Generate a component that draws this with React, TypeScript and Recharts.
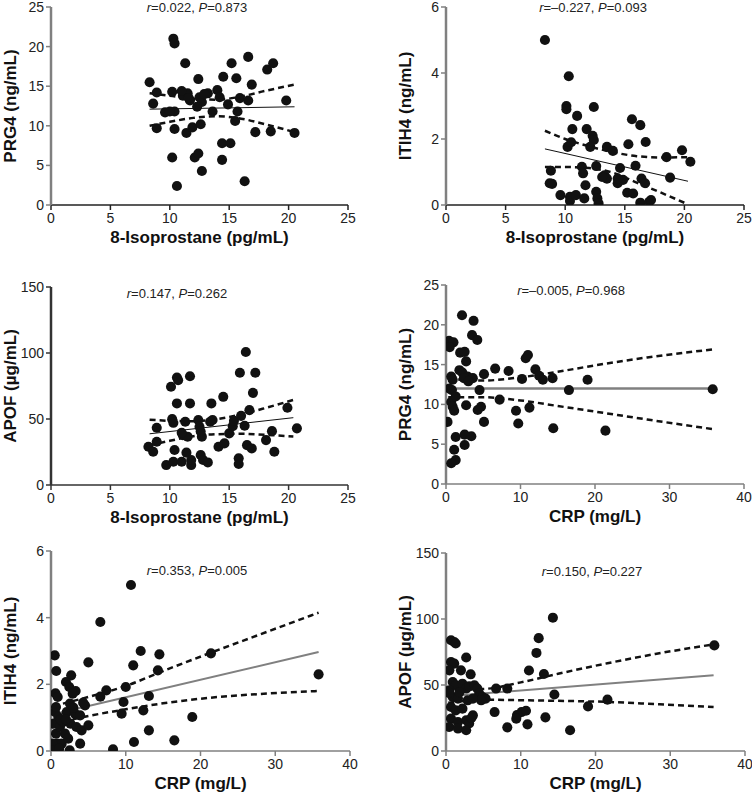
import React from "react";
import { ComposedChart, Scatter, Line, XAxis, YAxis, ZAxis } from "recharts";

type Pt = [number, number];

const FONT = '"Liberation Sans", Arial, sans-serif';

const isoTicks = [0, 5, 10, 15, 20, 25];
const crpTicks = [0, 10, 20, 30, 40];
const prg4Ticks = [0, 5, 10, 15, 20, 25];
const itih4Ticks = [0, 2, 4, 6];
const apofTicks = [0, 50, 100, 150];

// PRG4 vs 8-isoprostane
const prg4Iso: Pt[] = [
  [8.3, 15.5], [8.9, 14.2], [8.6, 12.8], [8.9, 9.7], [9.6, 11.7], [10.2, 14.3], [10.3, 21.0], [10.4, 20.4],
  [10.4, 11.8], [10.4, 9.6], [10.2, 6.0], [10.6, 2.4], [11.3, 17.9], [11.1, 13.8], [11.5, 14.1], [11.7, 13.2],
  [11.4, 9.1], [11.9, 9.8], [12.4, 15.9], [12.5, 13.6], [12.7, 13.0], [12.6, 10.2], [12.1, 6.0], [12.4, 6.5],
  [12.7, 4.3], [13.2, 14.1], [13.6, 11.8], [14.0, 14.5], [14.5, 16.2], [14.4, 7.8], [14.4, 5.7], [14.9, 12.7],
  [15.1, 7.8], [15.2, 17.9], [15.5, 10.6], [15.6, 16.0], [15.7, 11.8], [15.9, 13.5], [16.3, 3.0], [16.6, 18.7],
  [16.6, 13.2], [16.9, 15.2], [17.2, 9.2], [18.2, 17.1], [18.7, 17.9], [18.5, 9.3], [19.8, 13.2], [20.5, 9.1],
  [12.9, 14.0], [11.0, 14.4], [12.3, 12.4], [14.2, 13.6], [10.0, 11.8], [11.6, 13.5],
];
const prg4IsoFit: Pt[] = [[8.3, 12.1], [20.5, 12.4]];
const prg4IsoUpper: Pt[] = [[8.3, 14.1], [10, 13.8], [12, 13.4], [14, 13.3], [16, 13.7], [18, 14.4], [20.5, 15.2]];
const prg4IsoLower: Pt[] = [[8.3, 10.0], [10, 10.5], [12, 11.0], [14, 11.2], [16, 10.9], [18, 10.2], [20.5, 9.2]];

// ITIH4 vs 8-isoprostane
const itih4Iso: Pt[] = [
  [8.3, 5.0], [10.3, 3.9], [10.1, 3.0], [10.1, 2.9], [12.4, 2.97], [11.0, 2.7], [10.6, 2.3], [11.8, 2.3],
  [12.3, 2.1], [12.4, 1.97], [10.2, 1.76], [10.5, 1.9], [12.1, 1.76], [13.5, 1.76], [14.0, 1.64], [15.3, 1.84],
  [15.6, 2.6], [16.3, 2.42], [16.75, 1.91], [19.8, 1.66], [18.5, 1.45], [20.5, 1.31], [8.8, 1.04], [8.7, 0.66],
  [8.9, 0.64], [11.4, 1.16], [11.5, 0.96], [12.6, 1.18], [13.3, 0.9], [13.5, 0.8], [13.1, 0.85], [14.6, 1.12],
  [14.4, 0.66], [14.85, 0.76], [15.9, 1.19], [16.4, 0.8], [16.7, 0.66], [18.8, 0.83], [11.7, 0.6], [9.6, 0.3],
  [10.4, 0.25], [10.4, 0.12], [10.9, 0.3], [11.6, 0.2], [12.6, 0.4], [12.7, 0.2], [12.8, 0.05], [15.2, 0.37],
  [15.7, 0.35], [16.3, 0.07], [17.05, 0.1], [17.2, 0.15], [14.4, 0.8],
];
const itih4IsoFit: Pt[] = [[8.3, 1.7], [20.3, 0.72]];
const itih4IsoUpper: Pt[] = [[8.3, 2.25], [10, 2.0], [12, 1.78], [14, 1.6], [16, 1.48], [18, 1.44], [20.3, 1.45]];
const itih4IsoLower: Pt[] = [[8.3, 1.15], [10, 1.15], [12, 1.12], [14, 0.98], [16, 0.68], [18, 0.38], [20.3, 0.02]];

// APOF vs 8-isoprostane
const apofIso: Pt[] = [
  [8.2, 29.0], [8.6, 25.2], [8.9, 43.4], [8.9, 32.8], [9.7, 15.1], [10.1, 74.4], [10.2, 49.9], [10.3, 47.1],
  [10.3, 17.6], [10.4, 26.5], [10.6, 81.4], [10.7, 79.4], [10.6, 61.8], [11.0, 17.6], [11.1, 37.8], [11.3, 47.9],
  [11.4, 24.5], [11.5, 36.6], [11.7, 82.4], [11.7, 61.8], [11.8, 15.1], [11.8, 18.9], [12.4, 49.2], [12.5, 44.1],
  [12.6, 22.7], [12.7, 36.6], [12.8, 18.9], [13.2, 17.1], [13.5, 61.8], [13.6, 49.2], [13.4, 47.9], [14.1, 29.0],
  [14.5, 66.8], [14.6, 31.5], [15.0, 39.1], [15.3, 44.6], [15.4, 48.7], [15.8, 20.2], [15.8, 15.9], [15.9, 85.0],
  [16.0, 52.4], [16.3, 44.9], [16.4, 100.8], [16.5, 30.2], [16.7, 56.7], [16.9, 27.7], [17.0, 69.8], [17.2, 85.0],
  [18.1, 34.0], [18.6, 40.8], [18.8, 25.2], [19.9, 58.5], [20.7, 42.9], [11.0, 39.5], [12.6, 40.5],
];
const apofIsoFit: Pt[] = [[8.3, 38.8], [20.4, 51.0]];
const apofIsoUpper: Pt[] = [[8.3, 49.5], [10, 48.6], [12, 48.3], [14, 50], [16, 53.5], [18, 58.2], [20.4, 64.5]];
const apofIsoLower: Pt[] = [[8.3, 30.0], [10, 33.5], [12, 37], [14, 38.5], [16, 38.8], [18, 38.0], [20.4, 36.8]];

// PRG4 vs CRP
const prg4Crp: Pt[] = [
  [2.15, 21.2], [3.7, 20.5], [3.5, 18.7], [4.2, 18.1], [0.4, 18.0], [1.0, 17.8], [0.5, 17.2], [1.9, 16.5],
  [2.5, 16.6], [2.7, 15.4], [1.8, 14.3], [2.2, 14.0], [2.9, 13.5], [3.6, 13.3], [0.7, 13.5], [0.9, 13.1],
  [5.1, 13.8], [6.6, 14.5], [8.4, 14.2], [10.2, 13.2], [10.7, 15.8], [11.0, 16.2], [12.0, 14.4], [12.5, 13.6],
  [13.0, 13.1], [14.3, 13.3], [0.45, 12.0], [0.8, 11.8], [4.5, 11.8], [16.5, 11.8], [0.7, 10.3], [0.9, 9.7],
  [1.3, 11.0], [2.7, 9.9], [4.7, 9.7], [4.25, 9.3], [7.2, 10.6], [0.2, 7.8], [5.1, 7.8], [9.4, 9.2],
  [9.7, 7.6], [11.2, 9.6], [14.4, 7.0], [1.3, 5.9], [2.5, 6.2], [3.4, 6.0], [2.5, 4.9], [1.1, 4.3],
  [1.3, 3.0], [0.7, 2.6], [19.0, 13.1], [21.4, 6.7], [35.8, 11.9], [1.1, 9.2], [2.4, 13.3], [3.0, 12.9],
];
const prg4CrpFit: Pt[] = [[0.3, 12.0], [35.8, 12.0]];
const prg4CrpUpper: Pt[] = [[0.3, 13.2], [5, 13.0], [10, 13.4], [15, 14.1], [20, 14.9], [27, 15.9], [35.8, 16.9]];
const prg4CrpLower: Pt[] = [[0.3, 10.9], [5, 10.9], [10, 10.5], [15, 9.8], [20, 9.1], [27, 8.1], [35.8, 6.9]];

// ITIH4 vs CRP
const itih4Crp: Pt[] = [
  [10.7, 4.98], [6.6, 3.87], [0.5, 2.87], [0.7, 2.4], [0.6, 1.73], [5.0, 2.66], [11.0, 2.57], [12.0, 3.0],
  [14.5, 2.9], [14.3, 2.42], [21.4, 2.93], [35.8, 2.3], [10.0, 1.92], [7.4, 1.82], [6.6, 1.63], [13.1, 1.65],
  [9.7, 1.47], [9.45, 1.12], [12.35, 1.22], [13.1, 0.62], [11.1, 0.27], [16.5, 0.32], [18.9, 1.02], [8.3, 0.05],
  [2.5, 0.02], [2.7, 2.27], [2.0, 2.07], [2.45, 1.92], [3.3, 1.8], [2.9, 1.72], [0.3, 0.82], [0.53, 1.17],
  [0.67, 0.52], [0.85, 0.22], [0.98, 1.02], [1.2, 0.72], [1.43, 0.22], [1.65, 0.87], [1.87, 0.52], [2.1, 1.17],
  [2.3, 0.37], [2.54, 1.42], [2.6, 0.82], [3.2, 1.12], [3.4, 0.72], [3.9, 1.07], [4.1, 0.62], [3.9, 0.22],
  [4.55, 1.37], [5.0, 0.77], [0.2, 0.22], [0.3, 0.02], [1.1, 0.07], [0.67, 1.32], [0.9, 1.62], [1.3, 0.95],
  [2.0, 0.95], [3.0, 1.3], [4.3, 1.45],
];
const itih4CrpFit: Pt[] = [[0.3, 1.1], [35.8, 2.97]];
const itih4CrpUpper: Pt[] = [[0.3, 1.35], [5, 1.62], [10, 1.95], [15, 2.4], [21.4, 2.95], [28, 3.5], [35.8, 4.15]];
const itih4CrpLower: Pt[] = [[0.3, 0.82], [5, 1.05], [10, 1.25], [15, 1.43], [21.4, 1.6], [28, 1.71], [35.8, 1.8]];

// APOF vs CRP
const apofCrp: Pt[] = [
  [14.3, 101], [12.4, 85.5], [12.1, 74.3], [11.1, 61], [13.1, 58.3], [13.3, 25.5], [14.5, 42.8], [16.6, 15.7],
  [19.0, 33.8], [21.6, 38.9], [35.9, 80], [9.5, 27.3], [10.1, 29.5], [10.7, 30.5], [9.4, 24.5], [10.9, 20.2],
  [8.2, 17.9], [6.5, 29.5], [6.7, 47.3], [8.2, 47.3], [0.67, 83.9], [1.1, 82.6], [1.3, 81.4], [2.7, 70.8],
  [0.67, 67.4], [1.1, 66.2], [2.0, 61.1], [0.45, 61.1], [3.3, 58.1], [0.9, 52.3], [1.3, 49.8], [0.45, 46],
  [2.2, 51], [2.7, 47.3], [3.1, 49], [3.8, 49.8], [4.2, 47.3], [4.45, 43.5], [4.9, 40.9], [5.3, 39.7],
  [4.7, 38.4], [0.9, 40.9], [1.6, 39.7], [2.9, 38.4], [3.6, 39.7], [0.67, 33.3], [1.3, 30.8], [2.2, 32.1],
  [3.6, 27], [0.67, 24.5], [1.6, 22], [2.7, 23.3], [3.1, 20.8], [0.45, 18.2], [1.6, 17], [2.7, 15.7],
  [0.4, 44], [1.8, 44.5], [3.4, 25],
];
const apofCrpFit: Pt[] = [[0.3, 41.5], [35.8, 57.3]];
const apofCrpUpper: Pt[] = [[0.3, 46.5], [5, 47], [10, 52], [15, 58.5], [21.6, 66.5], [28, 73.5], [35.8, 80.8]];
const apofCrpLower: Pt[] = [[0.3, 36.5], [5, 38.8], [10, 38.5], [15, 38.0], [21.6, 37.2], [28, 35.5], [35.8, 33.3]];

const toXY = (pts: Pt[]) => pts.map(([x, y]) => ({ x, y }));

interface PanelDef {
  col: 0 | 1;
  box: { l: number; t: number; r: number; b: number };
  xTicks: number[];
  yTicks: number[];
  xLabel: string;
  yLabel: string;
  pts: Pt[];
  fit: Pt[];
  upper: Pt[];
  lower: Pt[];
  r: string;
  p: string;
  note: { x: number; y: number };
  yAxisColor: string;
  xAxisColor: string;
  fitColor: string;
  fitWidth: number;
}

const panels: PanelDef[] = [
  {
    col: 0, box: { l: 51, t: 7, r: 348, b: 205 }, xTicks: isoTicks, yTicks: prg4Ticks,
    xLabel: "8-Isoprostane (pg/mL)", yLabel: "PRG4 (ng/mL)",
    pts: prg4Iso, fit: prg4IsoFit, upper: prg4IsoUpper, lower: prg4IsoLower,
    r: "0.022", p: "0.873", note: { x: 197, y: 7 },
    yAxisColor: "#808080", xAxisColor: "#222", fitColor: "#111", fitWidth: 1,
  },
  {
    col: 1, box: { l: 446, t: 7, r: 744, b: 205 }, xTicks: isoTicks, yTicks: itih4Ticks,
    xLabel: "8-Isoprostane (pg/mL)", yLabel: "ITIH4 (ng/mL)",
    pts: itih4Iso, fit: itih4IsoFit, upper: itih4IsoUpper, lower: itih4IsoLower,
    r: "\u20130.227", p: "0.093", note: { x: 593, y: 7 },
    yAxisColor: "#808080", xAxisColor: "#222", fitColor: "#111", fitWidth: 1,
  },
  {
    col: 0, box: { l: 51, t: 287, r: 348, b: 485 }, xTicks: isoTicks, yTicks: apofTicks,
    xLabel: "8-Isoprostane (pg/mL)", yLabel: "APOF (\u00b5g/mL)",
    pts: apofIso, fit: apofIsoFit, upper: apofIsoUpper, lower: apofIsoLower,
    r: "0.147", p: "0.262", note: { x: 177, y: 293 },
    yAxisColor: "#333", xAxisColor: "#333", fitColor: "#111", fitWidth: 1,
  },
  {
    col: 1, box: { l: 446, t: 285, r: 744, b: 484 }, xTicks: crpTicks, yTicks: prg4Ticks,
    xLabel: "CRP (mg/L)", yLabel: "PRG4 (ng/mL)",
    pts: prg4Crp, fit: prg4CrpFit, upper: prg4CrpUpper, lower: prg4CrpLower,
    r: "\u20130.005", p: "0.968", note: { x: 571, y: 290 },
    yAxisColor: "#808080", xAxisColor: "#808080", fitColor: "#808080", fitWidth: 2.5,
  },
  {
    col: 0, box: { l: 51, t: 551, r: 350, b: 751 }, xTicks: crpTicks, yTicks: itih4Ticks,
    xLabel: "CRP (mg/L)", yLabel: "ITIH4 (ng/mL)",
    pts: itih4Crp, fit: itih4CrpFit, upper: itih4CrpUpper, lower: itih4CrpLower,
    r: "0.353", p: "0.005", note: { x: 197, y: 570 },
    yAxisColor: "#808080", xAxisColor: "#808080", fitColor: "#808080", fitWidth: 2,
  },
  {
    col: 1, box: { l: 446, t: 553, r: 745, b: 751 }, xTicks: crpTicks, yTicks: apofTicks,
    xLabel: "CRP (mg/L)", yLabel: "APOF (\u00b5g/mL)",
    pts: apofCrp, fit: apofCrpFit, upper: apofCrpUpper, lower: apofCrpLower,
    r: "0.150", p: "0.227", note: { x: 592, y: 571 },
    yAxisColor: "#808080", xAxisColor: "#808080", fitColor: "#808080", fitWidth: 2,
  },
];

const TOP_M = 12;
const X_AXIS_H = 44;

const Panel: React.FC<{ d: PanelDef }> = ({ d }) => {
  const chartLeft = d.col === 0 ? 0 : 376;
  const yAxisW = d.box.l - chartLeft;
  const rightM = chartLeft + 376 - d.box.r;
  const height = TOP_M + (d.box.b - d.box.t) + X_AXIS_H;
  const xMax = d.xTicks[d.xTicks.length - 1];
  const yMax = d.yTicks[d.yTicks.length - 1];
  const tickStyle = { fontSize: 14, fill: "#222", fontFamily: FONT };
  const labelStyle = { fontSize: 17, fontWeight: 700, fill: "#111", fontFamily: FONT };

  return (
    <>
      <div style={{ position: "absolute", left: chartLeft, top: d.box.t - TOP_M }}>
        <ComposedChart
          width={376}
          height={height}
          margin={{ top: TOP_M, right: rightM, bottom: 0, left: 0 }}
        >
          <XAxis
            type="number"
            dataKey="x"
            domain={[0, xMax]}
            ticks={d.xTicks}
            allowDataOverflow
            height={X_AXIS_H}
            tickSize={5}
            tickMargin={3}
            tick={tickStyle}
            axisLine={{ stroke: d.xAxisColor, strokeWidth: 1.5 }}
            tickLine={{ stroke: d.xAxisColor, strokeWidth: 1.5 }}
            label={{ value: d.xLabel, position: "insideBottom", offset: 6, style: labelStyle }}
          />
          <YAxis
            type="number"
            dataKey="y"
            domain={[0, yMax]}
            ticks={d.yTicks}
            allowDataOverflow
            width={yAxisW}
            tickSize={5}
            tickMargin={2}
            tick={tickStyle}
            axisLine={{ stroke: d.yAxisColor, strokeWidth: 2.5 }}
            tickLine={{ stroke: d.yAxisColor, strokeWidth: 1.5 }}
            label={{
              value: d.yLabel,
              angle: -90,
              position: "insideLeft",
              offset: d.col === 0 ? 10 : 29,
              style: { ...labelStyle, textAnchor: "middle" },
            }}
          />
          <ZAxis range={[80, 80]} />
          <Scatter data={toXY(d.pts)} fill="#111" isAnimationActive={false} />
          <Line
            data={toXY(d.upper)}
            dataKey="y"
            type="monotone"
            stroke="#111"
            strokeWidth={2.5}
            strokeDasharray="6 4"
            dot={false}
            isAnimationActive={false}
          />
          <Line
            data={toXY(d.lower)}
            dataKey="y"
            type="monotone"
            stroke="#111"
            strokeWidth={2.5}
            strokeDasharray="6 4"
            dot={false}
            isAnimationActive={false}
          />
          <Line
            data={toXY(d.fit)}
            dataKey="y"
            type="linear"
            stroke={d.fitColor}
            strokeWidth={d.fitWidth}
            dot={false}
            isAnimationActive={false}
          />
        </ComposedChart>
      </div>
      <div
        style={{
          position: "absolute",
          left: d.note.x,
          top: d.note.y,
          transform: "translate(-50%, -50%)",
          whiteSpace: "nowrap",
          fontFamily: FONT,
          fontSize: 13,
          color: "#222",
        }}
      >
        <i>r</i>={d.r}, <i>P</i>={d.p}
      </div>
    </>
  );
};

export default function App() {
  return (
    <div
      style={{
        position: "absolute",
        left: 0,
        top: 0,
        width: 752,
        height: 797,
        overflow: "hidden",
        background: "#fff",
        fontFamily: FONT,
      }}
    >
      {panels.map((d, i) => (
        <Panel key={i} d={d} />
      ))}
    </div>
  );
}
